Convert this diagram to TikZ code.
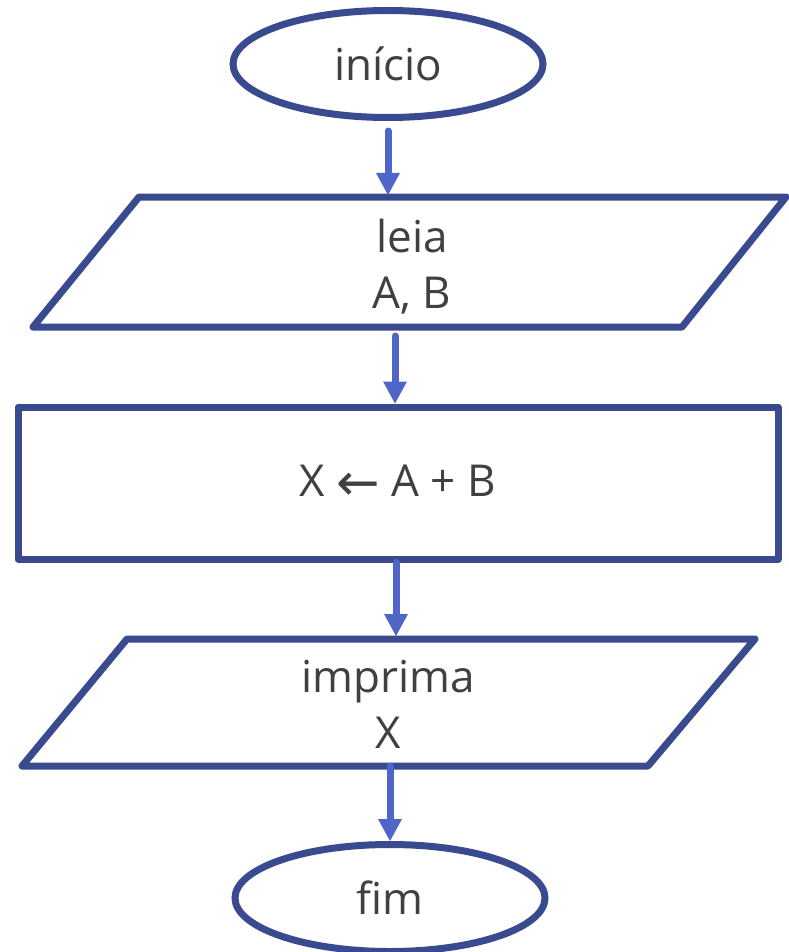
\documentclass[tikz,border=0pt]{standalone}
\usepackage{fontspec}
\setmainfont{Open Sans}
\newfontfamily\arrowfont{DejaVu Sans}
\usetikzlibrary{shapes.geometric,arrows.meta}

\definecolor{shapeblue}{HTML}{394A8F}
\definecolor{flowblue}{HTML}{4F66C8}
\definecolor{inkgray}{HTML}{404040}

\begin{document}
\begin{tikzpicture}[x=1pt,y=-1pt,
  txt/.style={text=inkgray, font=\fontsize{44}{56}\selectfont, inner sep=0pt, align=center},
  term/.style={txt, ellipse, draw=shapeblue, line width=7pt,
    minimum width=310pt, minimum height=107pt},
  procbox/.style={txt, rectangle, draw=shapeblue, line width=7pt, line join=round,
    minimum width=760pt, minimum height=152pt},
  iobox/.style={draw=shapeblue, line width=7pt, line join=round},
  flow/.style={draw=flowblue, line width=7pt, line cap=round,
    -{Triangle[width=24pt,length=22pt,line width=0pt]}}
]
\useasboundingbox (0,0) rectangle (788,952);

% terminals
\node[term] (start) at (388,64) {início};
\node[term] (stop)  at (390,898) {fim};

% input: leia A, B
\draw[iobox] (139,197) -- (786,197) -- (682,327) -- (33,327) -- cycle;
\coordinate (in1top) at (389,197);
\coordinate (in1bot) at (395,327);
\node[txt, anchor=base] (in1) at (412,308) {leia\\A, B};

% assignment
\node[procbox] (assign) at (398,483)
  {X {\arrowfont\fontsize{52}{56}\selectfont\raisebox{-4pt}{←}} A + B};

% output: imprima X
\draw[iobox] (127,639) -- (755,639) -- (648,766) -- (22,766) -- cycle;
\coordinate (out1top) at (396,639);
\coordinate (out1bot) at (390,766);
\node[txt, anchor=base] (out1) at (388,748) {imprima\\X};

% connectors
\draw[flow, shorten <=10pt, shorten >=2pt] (start.south) -- (start.south |- in1top);
\draw[flow, shorten <=9pt] (in1bot) -- (in1bot |- assign.north);
\draw[flow, shorten >=3pt] (assign.south -| out1top) -- (out1top);
\draw[flow] (out1bot) -- (out1bot |- stop.north);
\end{tikzpicture}
\end{document}
